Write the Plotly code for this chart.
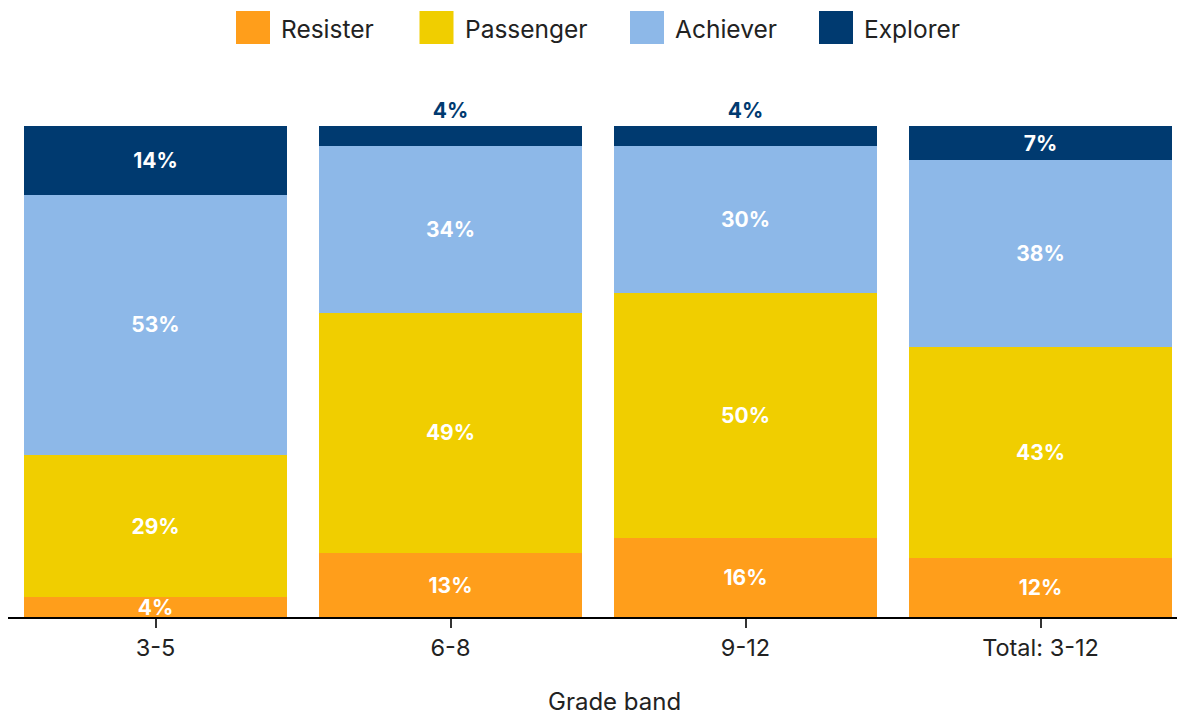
import plotly.graph_objects as go

categories = ["3-5", "6-8", "9-12", "Total: 3-12"]
series_names = ["Resister", "Passenger", "Achiever", "Explorer"]
resister = [4, 13, 16, 12]
passenger = [29, 49, 50, 43]
achiever = [53, 34, 30, 38]
explorer = [14, 4, 4, 7]
colors = ["#FF9E1B", "#F0CE00", "#8DB8E8", "#003A70"]

values = [resister, passenger, achiever, explorer]

fig = go.Figure()
for name, vals, col in zip(series_names, values, colors):
    if name == "Explorer":
        pos = ["inside" if v >= 6 else "outside" for v in vals]
    else:
        pos = ["inside"] * len(vals)
    fig.add_trace(go.Bar(
        x=categories, y=vals, name=name, marker=dict(color=col, line=dict(width=0)),
        text=[f"{v}%" for v in vals], textposition=pos,
        insidetextanchor="middle",
        textfont=dict(family="Inter", size=21, color="white", weight="bold"),
        outsidetextfont=dict(family="Inter", size=21, color="#003A70", weight="bold"),
        insidetextfont=dict(family="Inter", size=21, color="white", weight="bold"),
        cliponaxis=False, showlegend=False, hoverinfo="skip",
    ))

W, H = 1177, 717
# manual legend (large square swatches)
sw_left = [236, 419.5, 630, 819]
shapes = []
annotations = []
for name, col, xl in zip(series_names, colors, sw_left):
    shapes.append(dict(type="rect", xref="paper", yref="paper",
                       x0=(xl - 8) / (W - 8), x1=(xl + 34 - 8) / (W - 8),
                       y0=(617 - 44) / 491, y1=(617 - 11) / 491,
                       fillcolor=col, line=dict(width=0)))
    annotations.append(dict(text=name, xref="paper", yref="paper",
                            x=(xl + 43 - 8) / (W - 8), y=(617 - 29) / 491,
                            xanchor="left", yanchor="middle", showarrow=False,
                            font=dict(family="Inter", size=24.5, color="#222222")))

annotations.append(dict(text="Grade band", xref="paper", yref="paper",
                        x=(614.5 - 8) / (W - 8), y=(617 - 701) / 491,
                        xanchor="center", yanchor="middle", showarrow=False,
                        font=dict(family="Inter", size=24, color="#222222")))

fig.update_layout(
    barmode="stack", bargap=0.108,
    width=W, height=H,
    margin=dict(l=8, r=0, t=126, b=100),
    plot_bgcolor="white", paper_bgcolor="white",
    font=dict(family="Inter", color="#222222"),
    uniformtext=dict(mode=False),
    shapes=shapes, annotations=annotations,
    xaxis=dict(range=[-0.5, 3.4627], showline=True, linecolor="black", linewidth=2,
               ticks="outside", ticklen=9, tickwidth=2, tickcolor="#333333",
               tickfont=dict(family="Inter", size=23.5, color="#222222"),
               showgrid=False, zeroline=False, fixedrange=True),
    yaxis=dict(range=[0, 100], visible=False, showgrid=False, zeroline=False),
)
fig.update_traces(constraintext="none")

fig.write_html("out.html")
